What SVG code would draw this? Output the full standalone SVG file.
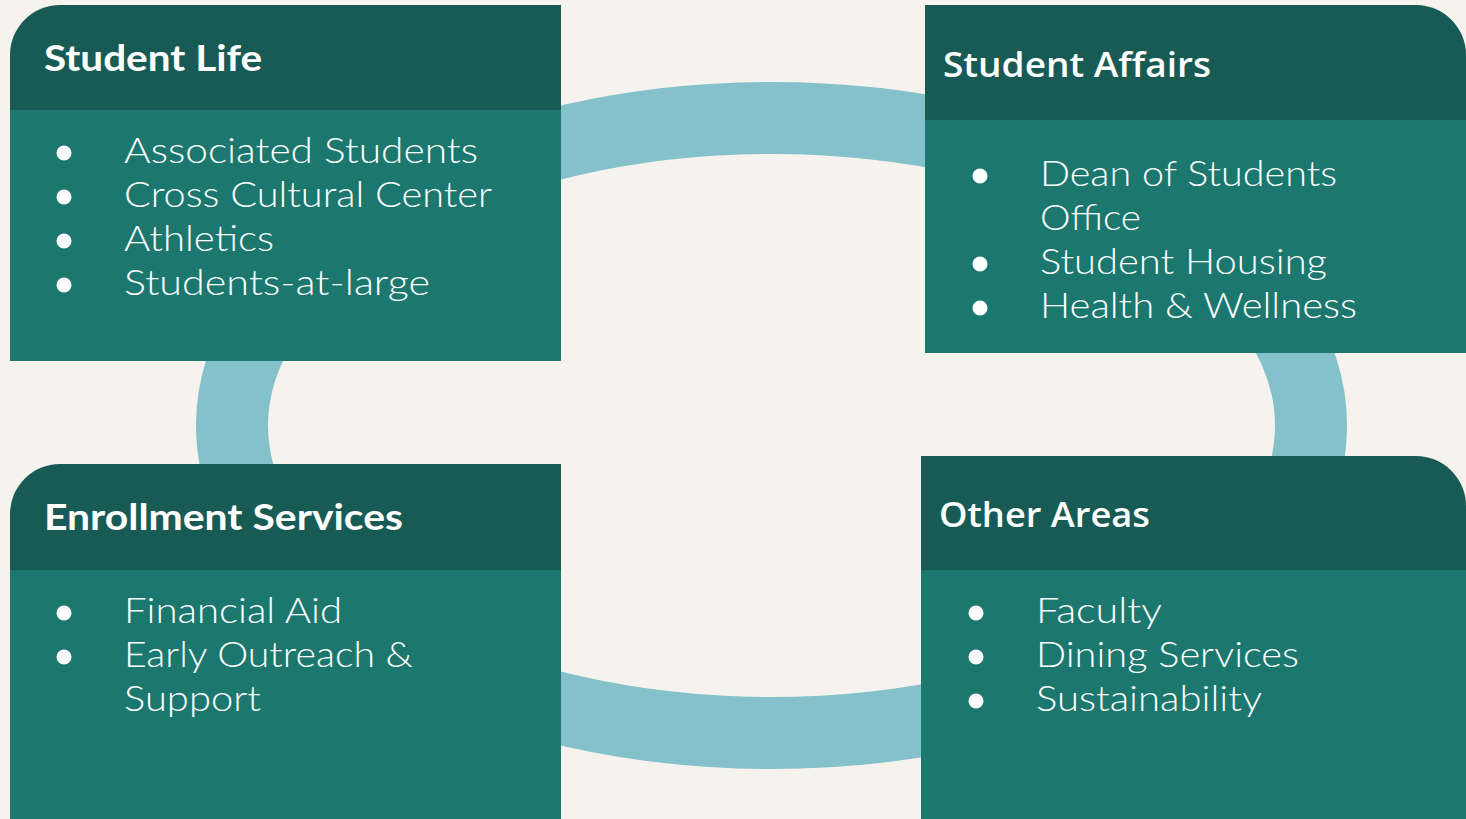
<svg xmlns="http://www.w3.org/2000/svg" width="1466" height="819" viewBox="0 0 1466 819">
<style>
.hdr{fill:#175B54}
.body{fill:#1C786E}
.ht{fill:#FFFFFF;font-family:Lato,"Liberation Sans",sans-serif;font-weight:700;font-size:36px}
.ht2{fill:#FFFFFF;font-family:"Open Sans","Liberation Sans",sans-serif;font-weight:600;font-size:35px}
.bt{fill:#FFFFFF;font-family:Lato,"Liberation Sans",sans-serif;font-weight:300;font-size:36px}
.dot{fill:#FFFFFF}
</style>
<rect x="0" y="0" width="1466" height="819" fill="#F6F3EE"/>
<g id="connectors">
<ellipse cx="771.5" cy="425.5" rx="539.5" ry="307.5" fill="none" stroke="#85C1CA" stroke-width="72"/>
</g>
<g id="student-life">
<path class="hdr" d="M10,110 V55 A50,50 0 0 1 60,5 H561 V110 Z"/>
<rect class="body" x="10" y="110" width="551" height="251"/>
<text class="ht" x="44" y="71" textLength="218" lengthAdjust="spacingAndGlyphs">Student Life</text>
<circle class="dot" cx="64" cy="153" r="7.5"/><text class="bt" x="124" y="163" textLength="354" lengthAdjust="spacingAndGlyphs">Associated Students</text>
<circle class="dot" cx="64" cy="197" r="7.5"/><text class="bt" x="124" y="207" textLength="368" lengthAdjust="spacingAndGlyphs">Cross Cultural Center</text>
<circle class="dot" cx="64" cy="241" r="7.5"/><text class="bt" x="124" y="251" textLength="150" lengthAdjust="spacingAndGlyphs">Athletics</text>
<circle class="dot" cx="64" cy="285" r="7.5"/><text class="bt" x="124" y="295" textLength="306" lengthAdjust="spacingAndGlyphs">Students-at-large</text>
</g>
<g id="student-affairs">
<path class="hdr" d="M925,5 H1416 A50,50 0 0 1 1466,55 V120 H925 Z"/>
<rect class="body" x="925" y="120" width="541" height="233"/>
<text class="ht2" x="943" y="77" textLength="268" lengthAdjust="spacingAndGlyphs">Student Affairs</text>
<circle class="dot" cx="980" cy="176" r="7.5"/><text class="bt" x="1040" y="186" textLength="297" lengthAdjust="spacingAndGlyphs">Dean of Students</text>
<text class="bt" x="1040" y="230" textLength="101" lengthAdjust="spacingAndGlyphs">Office</text>
<circle class="dot" cx="980" cy="264" r="7.5"/><text class="bt" x="1040" y="274" textLength="287" lengthAdjust="spacingAndGlyphs">Student Housing</text>
<circle class="dot" cx="980" cy="308" r="7.5"/><text class="bt" x="1040" y="318" textLength="317" lengthAdjust="spacingAndGlyphs">Health &amp; Wellness</text>
</g>
<g id="enrollment-services">
<path class="hdr" d="M10,570 V514 A50,50 0 0 1 60,464 H561 V570 Z"/>
<rect class="body" x="10" y="570" width="551" height="249"/>
<text class="ht" x="44" y="530" textLength="359" lengthAdjust="spacingAndGlyphs">Enrollment Services</text>
<circle class="dot" cx="64" cy="613" r="7.5"/><text class="bt" x="124" y="623" textLength="218" lengthAdjust="spacingAndGlyphs">Financial Aid</text>
<circle class="dot" cx="64" cy="657" r="7.5"/><text class="bt" x="124" y="667" textLength="289" lengthAdjust="spacingAndGlyphs">Early Outreach &amp;</text>
<text class="bt" x="124" y="711" textLength="137" lengthAdjust="spacingAndGlyphs">Support</text>
</g>
<g id="other-areas">
<path class="hdr" d="M921,456 H1416 A50,50 0 0 1 1466,506 V570 H921 Z"/>
<rect class="body" x="921" y="570" width="545" height="249"/>
<text class="ht2" x="939" y="527" textLength="211" lengthAdjust="spacingAndGlyphs">Other Areas</text>
<circle class="dot" cx="976" cy="613" r="7.5"/><text class="bt" x="1036" y="623" textLength="126" lengthAdjust="spacingAndGlyphs">Faculty</text>
<circle class="dot" cx="976" cy="657" r="7.5"/><text class="bt" x="1036" y="667" textLength="263" lengthAdjust="spacingAndGlyphs">Dining Services</text>
<circle class="dot" cx="976" cy="701" r="7.5"/><text class="bt" x="1036" y="711" textLength="226" lengthAdjust="spacingAndGlyphs">Sustainability</text>
</g>
</svg>
